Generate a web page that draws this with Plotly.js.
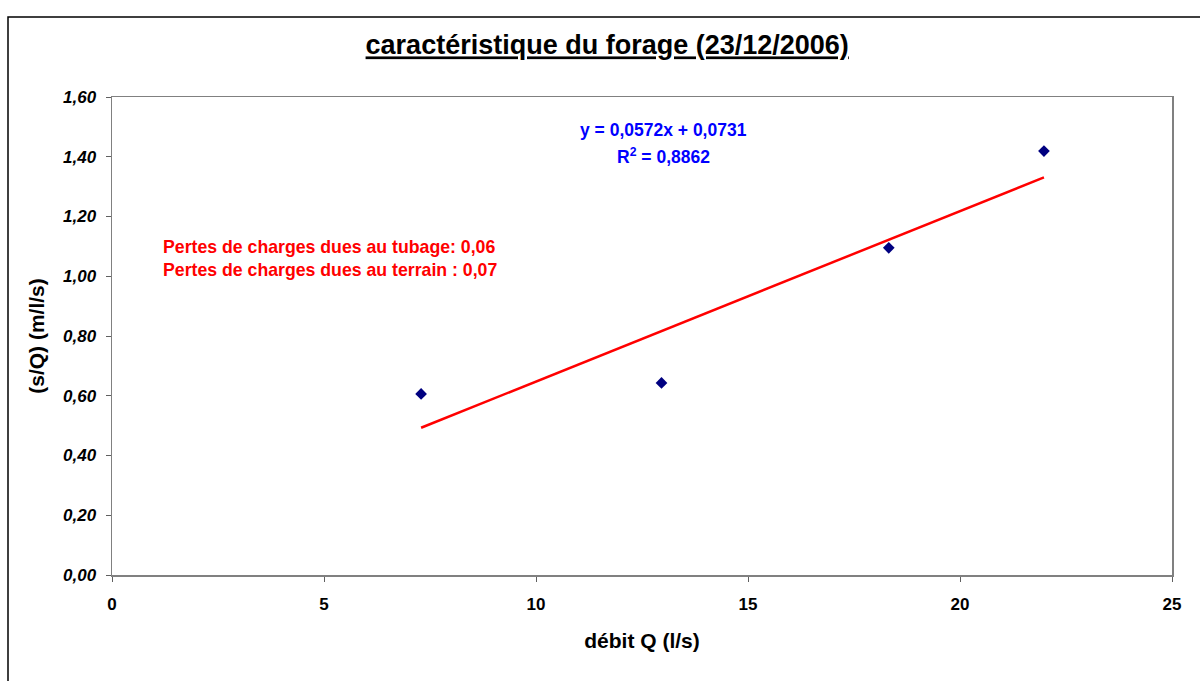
<!DOCTYPE html>
<html>
<head>
<meta charset="utf-8">
<script src="https://cdn.plot.ly/plotly-3.0.1.min.js"></script>
<style>html,body{margin:0;padding:0;background:#fff;}#chart{width:1200px;height:681px;}</style>
</head>
<body>
<div id="chart"></div>
<script>
const debitQ = [7.29, 12.96, 18.32, 21.98];
const sQ = [0.606, 0.643, 1.095, 1.419];
const trendX = [7.29, 21.98];
const trendY = [0.493, 1.331];
const yTicks = [0, 0.2, 0.4, 0.6, 0.8, 1.0, 1.2, 1.4, 1.6];
const yTickText = ['0,00','0,20','0,40','0,60','0,80','1,00','1,20','1,40','1,60'];
const xTicks = [0, 5, 10, 15, 20, 25];

const font = 'Liberation Sans, Arial, sans-serif';

const traces = [
  {x: trendX, y: trendY, mode: 'lines', type: 'scatter',
   line: {color: '#FF0000', width: 2.5}, hoverinfo: 'skip'},
  {x: debitQ, y: sQ, mode: 'markers', type: 'scatter',
   marker: {symbol: 'diamond', color: '#000080', size: 9}}
];

const layout = {
  width: 1200, height: 681,
  margin: {l: 112, r: 28, t: 97, b: 106},
  paper_bgcolor: '#fff', plot_bgcolor: '#fff',
  showlegend: false,
  font: {family: font, color: '#000'},
  title: {text: '<u><b>caractéristique du forage (23/12/2006)</b></u>',
          font: {family: font, size: 27, color: '#000'},
          x: 0.506, xanchor: 'center', y: 1 - 45/681, yanchor: 'middle'},
  xaxis: {range: [0, 25], tickvals: xTicks, ticktext: xTicks.map(t => '<b>' + t + '</b>'),
          showgrid: false, zeroline: false, showline: true, mirror: true,
          linecolor: '#808080', linewidth: 1.5, ticks: 'outside', ticklen: 5, tickcolor: '#606060',
          ticklabelstandoff: 8,
          tickfont: {family: font, size: 17, color: '#000'},
          title: {text: '<b>débit Q (l/s)</b>', font: {family: font, size: 21, color: '#000'}, standoff: 20}},
  yaxis: {range: [0, 1.6], tickvals: yTicks, ticktext: yTickText.map(t => '<b><i>' + t + '</i></b>'),
          showgrid: false, zeroline: false, showline: true, mirror: true,
          linecolor: '#808080', linewidth: 1.5, ticks: 'outside', ticklen: 5, tickcolor: '#606060',
          ticklabelstandoff: 6,
          tickfont: {family: font, size: 17, color: '#000'},
          title: {text: '<b>(s/Q) (m/l/s)</b>', font: {family: font, size: 21, color: '#000'}, standoff: 12}},
  annotations: [
    {xref: 'paper', yref: 'paper', x: (663-112)/1060, y: (575-130)/478, xanchor: 'center', yanchor: 'middle',
     text: '<b>y = 0,0572x + 0,0731</b>', showarrow: false, font: {family: font, size: 17.5, color: '#0000FF'}},
    {xref: 'paper', yref: 'paper', x: (663-112)/1060, y: (575-156)/478, xanchor: 'center', yanchor: 'middle',
     text: '<b>R<sup>2</sup> = 0,8862</b>', showarrow: false, font: {family: font, size: 17.5, color: '#0000FF'}},
    {xref: 'paper', yref: 'paper', x: (161-112)/1060, y: (575-247)/478, xanchor: 'left', yanchor: 'middle',
     text: '<b>Pertes de charges dues au tubage: 0,06</b>', showarrow: false, font: {family: font, size: 17.7, color: '#FF0000'}},
    {xref: 'paper', yref: 'paper', x: (161-112)/1060, y: (575-270)/478, xanchor: 'left', yanchor: 'middle',
     text: '<b>Pertes de charges dues au terrain : 0,07</b>', showarrow: false, font: {family: font, size: 17.7, color: '#FF0000'}}
  ],
  shapes: [
    {type: 'rect', xref: 'paper', yref: 'paper',
     x0: (8-112)/1060, x1: (1215-112)/1060, y0: (575-700)/478, y1: (575-17)/478,
     line: {color: '#000', width: 1.5}, fillcolor: 'rgba(0,0,0,0)', layer: 'below'}
  ]
};

Plotly.newPlot('chart', traces, layout, {displayModeBar: false, staticPlot: true});
</script>
</body>
</html>
